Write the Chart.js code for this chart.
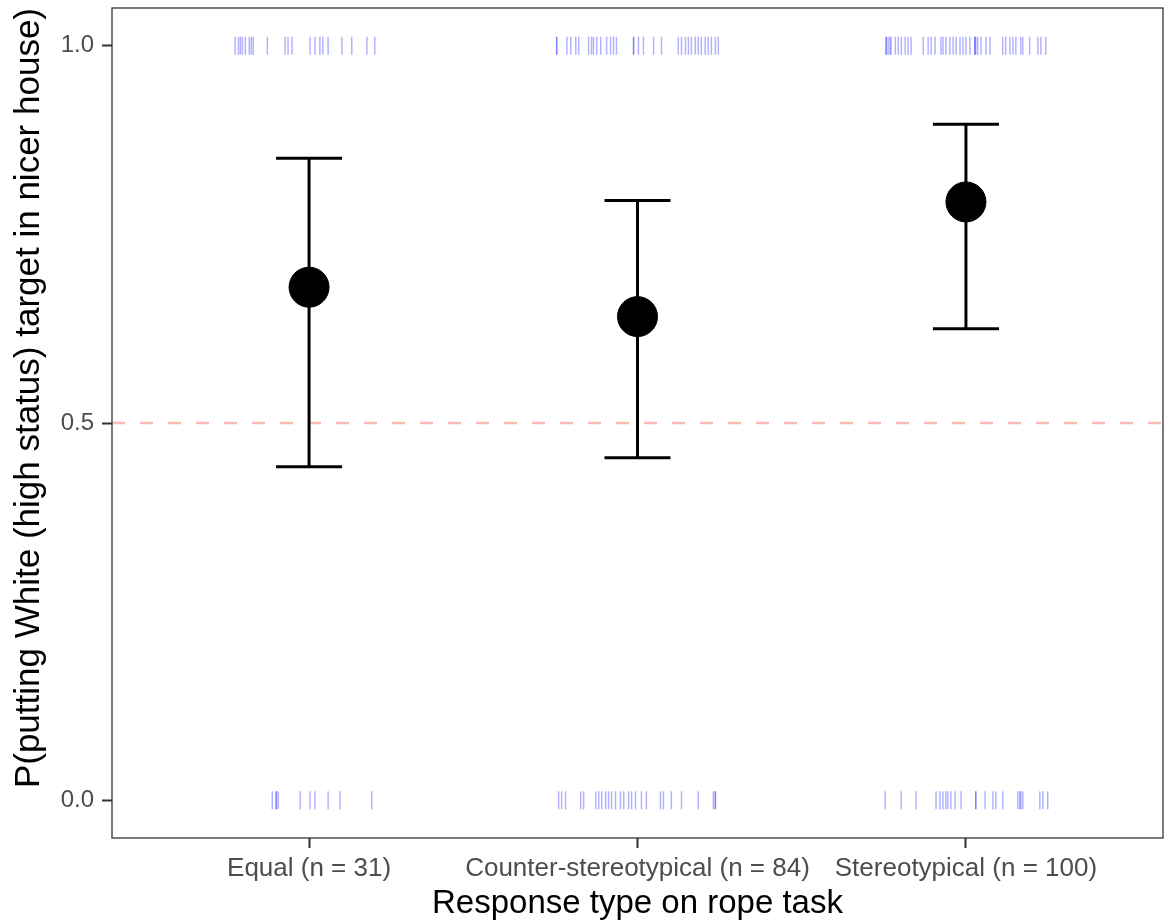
<!DOCTYPE html>
<html>
<head>
<meta charset="utf-8">
<script src="https://cdn.jsdelivr.net/npm/chart.js@4"></script>
<style>
  body { margin: 0; background: #fff; }
  #wrap { width: 1168px; height: 920px; }
</style>
</head>
<body>
<div id="wrap"><canvas id="myChart"></canvas></div>
<script>
let categories = ['Equal (n = 31)', 'Counter-stereotypical (n = 84)', 'Stereotypical (n = 100)'];
let means = [0.680, 0.641, 0.793];
let ciLow = [0.442, 0.454, 0.625];
let ciHigh = [0.851, 0.795, 0.896];
let chanceLevel = 0.5;

// jittered responses (offset from category position), 1 = White target in nicer house
let equalYes = [-0.225, -0.215, -0.209, -0.203, -0.194, -0.182, -0.176, -0.170, -0.127, -0.073, -0.064, -0.052, 0.003, 0.018, 0.033, 0.042, 0.058, 0.100, 0.130, 0.176, 0.200];
let equalNo = [-0.112, -0.100, -0.100, -0.094, -0.027, 0.003, 0.018, 0.058, 0.094, 0.191];
let counterYes = [-0.246, -0.246, -0.215, -0.203, -0.188, -0.179, -0.149, -0.140, -0.134, -0.124, -0.112, -0.094, -0.082, -0.073, -0.064, -0.012, -0.012, 0.003, 0.018, 0.049, 0.073, 0.124, 0.134, 0.146, 0.155, 0.164, 0.176, 0.185, 0.194, 0.206, 0.215, 0.225, 0.237, 0.246];
let counterNo = [-0.240, -0.231, -0.219, -0.173, -0.164, -0.127, -0.118, -0.109, -0.097, -0.088, -0.079, -0.067, -0.052, -0.042, -0.027, -0.018, -0.006, 0.012, 0.027, 0.070, 0.079, 0.103, 0.134, 0.185, 0.231, 0.237, 0.237];
let stereoYes = [-0.243, -0.243, -0.237, -0.231, -0.228, -0.215, -0.206, -0.197, -0.185, -0.176, -0.167, -0.130, -0.115, -0.106, -0.094, -0.076, -0.070, -0.061, -0.049, -0.039, -0.030, -0.018, -0.009, 0, 0.012, 0.027, 0.027, 0.030, 0.036, 0.046, 0.061, 0.073, 0.112, 0.121, 0.134, 0.143, 0.152, 0.167, 0.173, 0.194, 0.219, 0.228, 0.243];
let stereoNo = [-0.246, -0.197, -0.152, -0.091, -0.079, -0.070, -0.061, -0.055, -0.046, -0.033, -0.015, 0.030, 0.030, 0.058, 0.082, 0.091, 0.112, 0.158, 0.164, 0.167, 0.173, 0.225, 0.234, 0.249];

let yTicks = [0, 0.5, 1];

let yesSets = [equalYes, counterYes, stereoYes];
let noSets = [equalNo, counterNo, stereoNo];

let rugPoints = [];
yesSets.forEach((arr, i) => arr.forEach(d => rugPoints.push({x: i + 1 + d, y: 1})));
noSets.forEach((arr, i) => arr.forEach(d => rugPoints.push({x: i + 1 + d, y: 0})));

let errorBarSets = categories.map((c, i) => ({
    type: 'line',
    data: [{x: i + 1, y: ciLow[i]}, {x: i + 1, y: ciHigh[i]}],
    borderColor: '#000',
    borderWidth: 3,
    pointRadius: 0,
    order: 3
}));

let capPoints = [];
categories.forEach((c, i) => {
    capPoints.push({x: i + 1, y: ciLow[i]});
    capPoints.push({x: i + 1, y: ciHigh[i]});
});

let panelBorder = {
    id: 'panelBorder',
    afterDraw(chart) {
        let a = chart.chartArea;
        let ctx = chart.ctx;
        ctx.save();
        ctx.strokeStyle = '#333';
        ctx.lineWidth = 1.3;
        ctx.strokeRect(a.left, a.top, a.right - a.left, a.bottom - a.top);
        ctx.restore();
    }
};

let ctx = document.getElementById('myChart').getContext('2d');

let chart = new Chart(ctx, {
    type: 'scatter',
    data: {
        datasets: [
            {
                // group means
                data: categories.map((c, i) => ({x: i + 1, y: means[i]})),
                backgroundColor: '#000',
                borderColor: '#000',
                pointRadius: 20,
                order: 1
            },
            {
                // error bar caps
                data: capPoints,
                pointStyle: 'line',
                pointRadius: 33,
                borderColor: '#000',
                borderWidth: 3,
                order: 2
            },
            ...errorBarSets,
            {
                // raw responses
                data: rugPoints,
                pointStyle: 'line',
                rotation: 90,
                pointRadius: 9,
                borderColor: 'rgba(0, 0, 255, 0.3)',
                borderWidth: 1.5,
                order: 4
            },
            {
                type: 'line',
                data: [{x: 0.4, y: chanceLevel}, {x: 3.6, y: chanceLevel}],
                borderColor: 'rgba(248, 118, 109, 0.5)',
                borderWidth: 2.5,
                borderDash: [13, 15],
                pointRadius: 0,
                order: 5
            }
        ]
    },
    options: {
        responsive: true,
        maintainAspectRatio: false,
        animation: false,
        events: [],
        layout: { autoPadding: false, padding: { top: 8, right: 5, left: 0, bottom: 0 } },
        plugins: {
            legend: { display: false },
            tooltip: { enabled: false }
        },
        scales: {
            x: {
                type: 'linear',
                min: 0.4,
                max: 3.6,
                afterBuildTicks: s => { s.ticks = [1, 2, 3].map(v => ({value: v})); },
                afterFit: s => { s.height = 82; s.paddingLeft = 0; s.paddingRight = 0; },
                ticks: {
                    callback: v => categories[v - 1],
                    autoSkip: false,
                    maxRotation: 0,
                    padding: 5,
                    color: '#4D4D4D',
                    font: { family: 'Liberation Sans', size: 26 }
                },
                grid: { drawOnChartArea: false, tickLength: 10, tickWidth: 2, color: '#333' },
                border: { display: false },
                title: {
                    display: true,
                    text: 'Response type on rope task',
                    color: '#000',
                    padding: { top: 0, bottom: 0 },
                    font: { family: 'Liberation Sans', size: 33, lineHeight: 1 }
                }
            },
            y: {
                min: -0.05,
                max: 1.05,
                afterBuildTicks: s => { s.ticks = yTicks.map(v => ({value: v})); },
                afterFit: s => { s.width = 112; s.paddingTop = 0; s.paddingBottom = 0; },
                ticks: {
                    callback: v => v.toFixed(1),
                    padding: 8,
                    color: '#4D4D4D',
                    font: { family: 'Liberation Sans', size: 24 }
                },
                grid: { drawOnChartArea: false, tickLength: 10, tickWidth: 2, color: '#333' },
                border: { display: false },
                title: {
                    display: true,
                    text: 'P(putting White (high status) target in nicer house)',
                    color: '#000',
                    align: 'end',
                    padding: { top: 12, bottom: 0 },
                    font: { family: 'Liberation Sans', size: 35, lineHeight: 1 }
                }
            }
        }
    },
    plugins: [panelBorder]
});
</script>
</body>
</html>
